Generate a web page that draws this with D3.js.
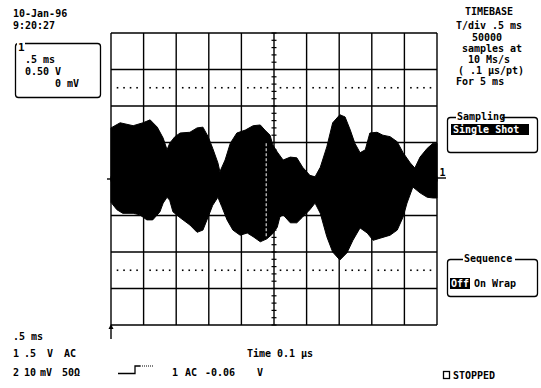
<!DOCTYPE html>
<html>
<head>
<meta charset="utf-8">
<script src="https://cdn.jsdelivr.net/npm/d3@7"></script>
<style>
  body { margin: 0; background: #fff; }
  text { font-family: "DejaVu Sans Mono", monospace; font-weight: bold; font-size: 10px; fill: #000; }
</style>
</head>
<body>
<div id="scope"></div>
<script>
// trace envelope (time in ms, channel 1 in volts)
const upperTime = [0, 0.14, 0.34, 0.49, 0.60, 0.71, 0.80, 0.86, 0.90, 0.98, 1.06, 1.21, 1.32, 1.41, 1.49, 1.56, 1.64, 1.67, 1.75, 1.83, 1.93, 2.06, 2.18, 2.29, 2.36, 2.44, 2.48, 2.55, 2.64, 2.75, 2.85, 2.94, 3.05, 3.13, 3.21, 3.31, 3.40, 3.51, 3.59, 3.67, 3.74, 3.82, 3.90, 3.97, 4.08, 4.17, 4.28, 4.39, 4.48, 4.59, 4.66, 4.74, 4.85, 4.94, 5.00];
const upperVolt = [0.70, 0.77, 0.73, 0.77, 0.81, 0.71, 0.56, 0.40, 0.49, 0.58, 0.63, 0.64, 0.70, 0.71, 0.58, 0.42, 0.22, 0.10, 0.26, 0.49, 0.63, 0.67, 0.73, 0.74, 0.67, 0.60, 0.47, 0.37, 0.26, 0.30, 0.29, 0.16, 0.05, 0.03, 0.16, 0.44, 0.77, 0.88, 0.85, 0.67, 0.49, 0.36, 0.40, 0.63, 0.64, 0.60, 0.58, 0.51, 0.36, 0.22, 0.15, 0.30, 0.42, 0.49, 0.49];
const lowerTime = [0, 0.09, 0.18, 0.34, 0.44, 0.55, 0.64, 0.75, 0.80, 0.86, 0.90, 0.95, 1.06, 1.21, 1.32, 1.41, 1.49, 1.56, 1.64, 1.70, 1.78, 1.87, 1.98, 2.09, 2.18, 2.29, 2.39, 2.48, 2.55, 2.59, 2.64, 2.75, 2.85, 2.94, 3.05, 3.13, 3.21, 3.31, 3.40, 3.51, 3.62, 3.71, 3.82, 3.93, 4.02, 4.13, 4.28, 4.39, 4.48, 4.54, 4.63, 4.74, 4.85, 4.94, 5.00];
const lowerVolt = [-0.32, -0.42, -0.47, -0.47, -0.49, -0.56, -0.56, -0.45, -0.33, -0.25, -0.29, -0.45, -0.53, -0.63, -0.73, -0.70, -0.52, -0.36, -0.25, -0.38, -0.56, -0.70, -0.77, -0.74, -0.79, -0.86, -0.82, -0.75, -0.66, -0.52, -0.49, -0.60, -0.60, -0.52, -0.42, -0.33, -0.47, -0.79, -1.00, -1.11, -1.01, -0.84, -0.67, -0.74, -0.84, -0.81, -0.77, -0.70, -0.52, -0.33, -0.11, -0.19, -0.25, -0.26, -0.26];

// graticule: 10 x 0.5 ms, 8 x 0.5 V
const timeDivs = [0, 0.5, 1, 1.5, 2, 2.5, 3, 3.5, 4, 4.5, 5];
const voltDivs = [-2, -1.5, -1, -0.5, 0, 0.5, 1, 1.5, 2];
const limitVolts = [1.25, -1.25];
const cursorTime = 2.38;
const cursorSpan = [0.49, -0.79];

const width = 541, height = 388;
const svg = d3.select("#scope").append("svg")
  .attr("width", width).attr("height", height)
  .attr("viewBox", [0, 0, width, height]);

const x = d3.scaleLinear().domain([0, 5]).range([111, 437]);
const y = d3.scaleLinear().domain([-2, 2]).range([325, 33]);

// grid
const grid = svg.append("g").attr("stroke", "#000").attr("stroke-width", 1.4);
grid.selectAll(".v").data(timeDivs).join("line")
  .attr("x1", d => x(d)).attr("x2", d => x(d))
  .attr("y1", y(2)).attr("y2", y(-2));
grid.selectAll(".h").data(voltDivs).join("line")
  .attr("y1", d => y(d)).attr("y2", d => y(d))
  .attr("x1", x(0)).attr("x2", x(5));

// dotted limit lines, one dot per minor step
const minorTimes = d3.range(0, 5.0001, 0.1).filter(t => Math.abs(t * 2 - Math.round(t * 2)) > 0.01);
limitVolts.forEach(v => {
  svg.append("g").selectAll("rect").data(minorTimes).join("rect")
    .attr("x", t => x(t) - 0.8).attr("y", y(v) - 0.8)
    .attr("width", 1.6).attr("height", 1.6).attr("fill", "#000");
});

// minor ticks on the centre axes
const minorVolts = d3.range(-2, 2.0001, 0.1);
svg.append("g").selectAll("line").data(minorVolts).join("line")
  .attr("x1", x(2.5) - 2.5).attr("x2", x(2.5) + 2.5)
  .attr("y1", d => y(d)).attr("y2", d => y(d))
  .attr("stroke", "#000").attr("stroke-width", 1.2);
svg.append("g").selectAll("line").data(d3.range(0, 5.0001, 0.1)).join("line")
  .attr("y1", y(0) - 2.5).attr("y2", y(0) + 2.5)
  .attr("x1", d => x(d)).attr("x2", d => x(d))
  .attr("stroke", "#000").attr("stroke-width", 1.2);

// trace envelope
const upper = upperTime.map((t, i) => [t, upperVolt[i]]);
const lower = lowerTime.map((t, i) => [t, lowerVolt[i]]).reverse();
const line = d3.line().x(d => x(d[0])).y(d => y(d[1]));
svg.append("path")
  .attr("d", line(upper.concat(lower)) + "Z")
  .attr("fill", "#000").attr("stroke", "#000").attr("stroke-width", 1);

svg.append("line")
  .attr("x1", x(cursorTime)).attr("x2", x(cursorTime))
  .attr("y1", y(cursorSpan[0])).attr("y2", y(cursorSpan[1]))
  .attr("stroke", "#fff").attr("stroke-width", 1).attr("stroke-dasharray", "3,2");

// ground marker, left tick and trigger arrow
svg.append("line").attr("x1", x(0) - 4).attr("x2", x(0)).attr("y1", y(0)).attr("y2", y(0))
  .attr("stroke", "#000").attr("stroke-width", 1.4);
svg.append("line").attr("x1", x(5)).attr("x2", x(5) + 9).attr("y1", y(0) - 1).attr("y2", y(0) - 1)
  .attr("stroke", "#000").attr("stroke-width", 1.4);
svg.append("text").attr("x", x(5) + 2.5).attr("y", y(0) - 3).text("1");
svg.append("line").attr("x1", x(0)).attr("x2", x(0)).attr("y1", y(-2)).attr("y2", y(-2) + 14)
  .attr("stroke", "#000").attr("stroke-width", 1.4);
svg.append("path")
  .attr("d", `M${x(0)},${y(-2) - 1}l-2.5,5h5Z`).attr("fill", "#000");

// text helpers
function label(tx, ty, s, anchor = "start") {
  return svg.append("text").attr("x", tx).attr("y", ty).attr("text-anchor", anchor).text(s);
}
function box(bx, by, bw, bh) {
  svg.append("rect").attr("x", bx).attr("y", by).attr("width", bw).attr("height", bh)
    .attr("rx", 3).attr("fill", "none").attr("stroke", "#000").attr("stroke-width", 1.3);
}

// top left
label(13, 17, "10-Jan-96");
label(13, 29, " 9:20:27");
box(15.5, 43.5, 85, 54);
svg.append("rect").attr("x", 17).attr("y", 40).attr("width", 8).attr("height", 8).attr("fill", "#fff");
label(18, 51, "1").style("font-size", "11px");
label(25, 63, ".5 ms");
label(25, 75, "0.50 V");
label(79, 87, "0 mV", "end");

// timebase panel
label(489, 15, "TIMEBASE", "middle");
label(489, 29, "T/div .5 ms", "middle");
label(487, 41, "50000", "middle");
label(492, 52, "samples at", "middle");
label(489, 63, "10 Ms/s", "middle");
label(491, 74, "( .1 µs/pt)", "middle");
label(456, 85, "For  5 ms");

box(447.5, 117.5, 90, 35);
svg.append("rect").attr("x", 456).attr("y", 112).attr("width", 46).attr("height", 9).attr("fill", "#fff");
label(457, 120, "Sampling");
svg.append("rect").attr("x", 451).attr("y", 124).attr("width", 78).attr("height", 11).attr("fill", "#000");
label(453, 133, "Single Shot").style("fill", "#fff");

box(447.5, 259.5, 90, 37);
svg.append("rect").attr("x", 463).attr("y", 254).attr("width", 52).attr("height", 9).attr("fill", "#fff");
label(464, 262, "Sequence");
svg.append("rect").attr("x", 450).attr("y", 278).attr("width", 20).attr("height", 11).attr("fill", "#000");
label(451, 287, "Off").style("fill", "#fff");
label(474, 287, "On Wrap");

svg.append("rect").attr("x", 443.5).attr("y", 371.5).attr("width", 6).attr("height", 7)
  .attr("fill", "none").attr("stroke", "#000").attr("stroke-width", 1.3);
label(453, 379, "STOPPED");

// bottom status lines
label(13, 340, ".5 ms");
label(13, 357, "1");
label(24, 357, ".5");
label(47, 357, "V");
label(64, 357, "AC");
label(13, 376, "2");
label(24, 376, "10");
label(40, 376, "mV");
label(62, 376, "50Ω");
label(280, 357, "Time 0.1 µs", "middle");

svg.append("path").attr("d", "M118,373.5H135V366H140")
  .attr("fill", "none").attr("stroke", "#000").attr("stroke-width", 1.3);
svg.append("path").attr("d", "M140,366H153")
  .attr("fill", "none").attr("stroke", "#000").attr("stroke-width", 1).attr("stroke-dasharray", "1,1");
label(172, 376, "1");
label(185, 376, "AC");
label(205, 376, "-0.06");
label(257, 376, "V");
</script>
</body>
</html>
